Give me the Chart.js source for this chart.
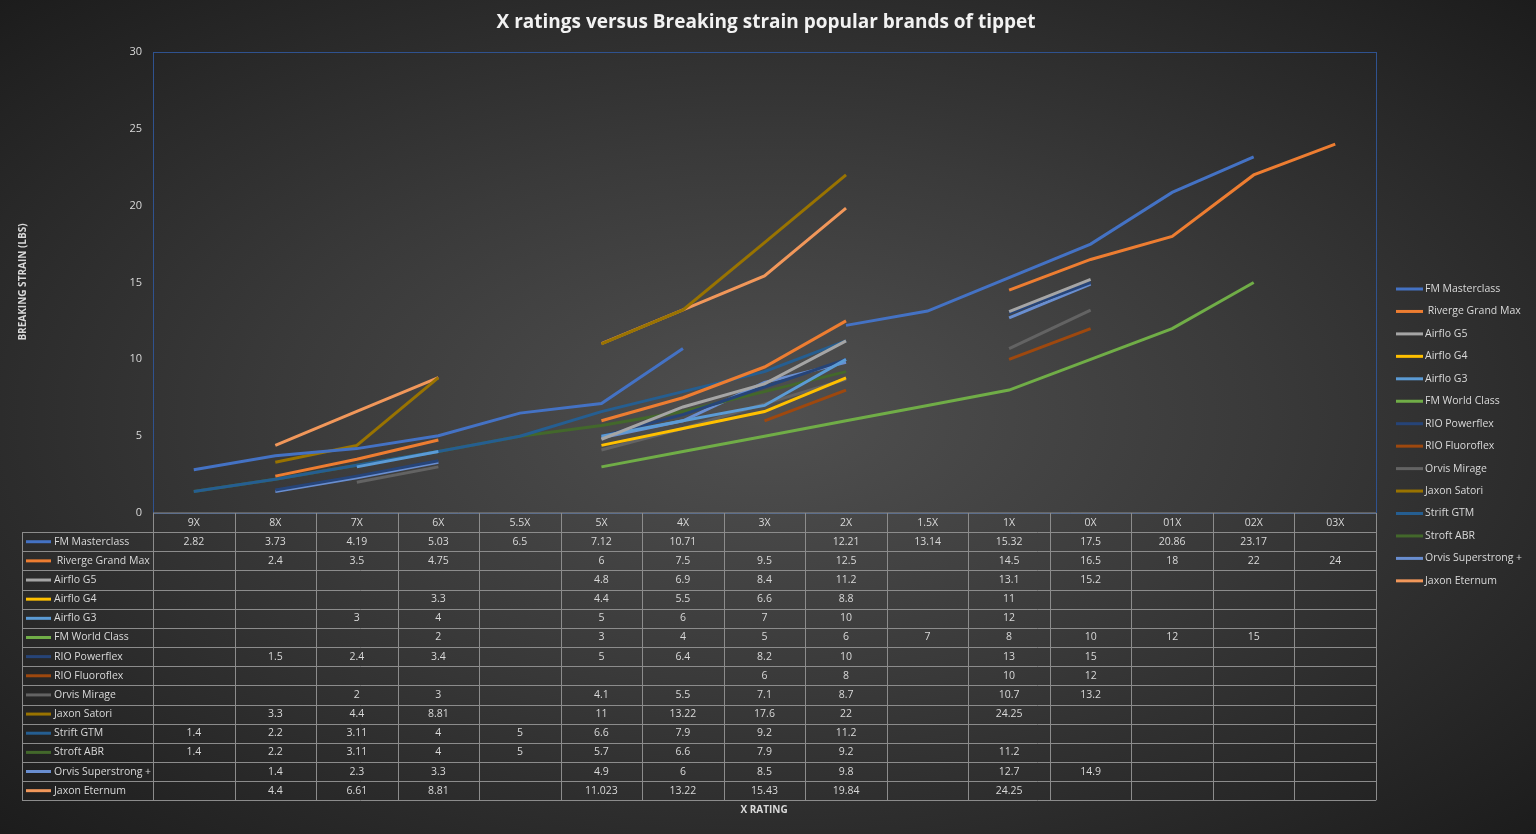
<!DOCTYPE html>
<html>
<head>
<meta charset="utf-8">
<script src="https://cdn.jsdelivr.net/npm/chart.js@4"></script>
<style>
  html, body { margin: 0; padding: 0; overflow: hidden; }
  body { width: 1536px; height: 834px; background: radial-gradient(ellipse at center, #505050 0%, #3a3a3a 45%, #1c1c1c 100%); }
  canvas { display: block; }
</style>
</head>
<body>
<canvas id="myChart" width="1536" height="834"></canvas>
<script>
var categories = ['9X', '8X', '7X', '6X', '5.5X', '5X', '4X', '3X', '2X', '1.5X', '1X', '0X', '01X', '02X', '03X'];

var fmMasterclass   = [2.82, 3.73, 4.19, 5.03, 6.5, 7.12, 10.71, null, 12.21, 13.14, 15.32, 17.5, 20.86, 23.17, null];
var rivergeGrandMax = [null, 2.4, 3.5, 4.75, null, 6, 7.5, 9.5, 12.5, null, 14.5, 16.5, 18, 22, 24];
var airfloG5        = [null, null, null, null, null, 4.8, 6.9, 8.4, 11.2, null, 13.1, 15.2, null, null, null];
var airfloG4        = [null, null, null, 3.3, null, 4.4, 5.5, 6.6, 8.8, null, 11, null, null, null, null];
var airfloG3        = [null, null, 3, 4, null, 5, 6, 7, 10, null, 12, null, null, null, null];
var fmWorldClass    = [null, null, null, 2, null, 3, 4, 5, 6, 7, 8, 10, 12, 15, null];
var rioPowerflex    = [null, 1.5, 2.4, 3.4, null, 5, 6.4, 8.2, 10, null, 13, 15, null, null, null];
var rioFluoroflex   = [null, null, null, null, null, null, null, 6, 8, null, 10, 12, null, null, null];
var orvisMirage     = [null, null, 2, 3, null, 4.1, 5.5, 7.1, 8.7, null, 10.7, 13.2, null, null, null];
var jaxonSatori     = [null, 3.3, 4.4, 8.81, null, 11, 13.22, 17.6, 22, null, 24.25, null, null, null, null];
var striftGTM       = [1.4, 2.2, 3.11, 4, 5, 6.6, 7.9, 9.2, 11.2, null, null, null, null, null, null];
var stroftABR       = [1.4, 2.2, 3.11, 4, 5, 5.7, 6.6, 7.9, 9.2, null, 11.2, null, null, null, null];
var orvisSuperstrong = [null, 1.4, 2.3, 3.3, null, 4.9, 6, 8.5, 9.8, null, 12.7, 14.9, null, null, null];
var jaxonEternum    = [null, 4.4, 6.61, 8.81, null, 11.023, 13.22, 15.43, 19.84, null, 24.25, null, null, null, null];

var seriesNames = ['FM Masterclass', ' Riverge Grand Max', 'Airflo G5', 'Airflo G4', 'Airflo G3', 'FM World Class',
    'RIO Powerflex', 'RIO Fluoroflex', 'Orvis Mirage', 'Jaxon Satori', 'Strift GTM', 'Stroft ABR',
    'Orvis Superstrong +', 'Jaxon Eternum'];
var seriesValues = [fmMasterclass, rivergeGrandMax, airfloG5, airfloG4, airfloG3, fmWorldClass, rioPowerflex,
    rioFluoroflex, orvisMirage, jaxonSatori, striftGTM, stroftABR, orvisSuperstrong, jaxonEternum];
var seriesColors = ['#4472C4', '#ED7D31', '#A5A5A5', '#FFC000', '#5B9BD5', '#70AD47', '#264478',
    '#9E480E', '#636363', '#997300', '#255E91', '#43682B', '#698ED0', '#F1975A'];

var ROW_H = 19.15;

// title, axis titles, plot border, legend and data table
var extrasPlugin = {
    id: 'extras',
    afterDraw: function (chart) {
        var ctx = chart.ctx;
        var area = chart.chartArea;
        var x = chart.scales.x;
        var colW = (area.right - area.left) / categories.length;
        var tableLeft = 22;
        ctx.save();

        ctx.strokeStyle = '#2F528F';
        ctx.lineWidth = 1;
        ctx.strokeRect(area.left + 0.5, area.top + 0.5, area.right - area.left, area.bottom - area.top);

        ctx.fillStyle = '#F2F2F2';
        ctx.font = 'bold 19px "Open Sans", sans-serif';
        ctx.textAlign = 'center';
        ctx.textBaseline = 'middle';
        ctx.fillText('X ratings versus Breaking strain popular brands of tippet', 766, 23);

        ctx.fillStyle = '#D9D9D9';
        ctx.font = 'bold 10px "Open Sans", sans-serif';
        ctx.fillText('X RATING', 764, 810);
        ctx.save();
        ctx.translate(23, 282);
        ctx.rotate(-Math.PI / 2);
        ctx.fillText('BREAKING STRAIN (LBS)', 0, 0);
        ctx.restore();

        // table grid
        var rows = seriesNames.length + 1;
        var top = area.bottom;
        var bottom = top + rows * ROW_H;
        ctx.strokeStyle = '#8C8C8C';
        ctx.lineWidth = 1;
        ctx.beginPath();
        for (var r = 1; r <= rows; r++) {
            var yy = Math.round(top + r * ROW_H) + 0.5;
            ctx.moveTo(tableLeft, yy);
            ctx.lineTo(area.right, yy);
        }
        ctx.moveTo(area.left, top);
        ctx.lineTo(area.right, top);
        ctx.moveTo(tableLeft + 0.5, top + ROW_H);
        ctx.lineTo(tableLeft + 0.5, bottom);
        for (var c = 0; c <= categories.length; c++) {
            var xx = Math.round(area.left + c * colW) + 0.5;
            ctx.moveTo(xx, top);
            ctx.lineTo(xx, bottom);
        }
        ctx.stroke();

        ctx.font = '10.5px "Open Sans", sans-serif';
        ctx.fillStyle = '#D9D9D9';
        ctx.textAlign = 'center';
        categories.forEach(function (cat, i) {
            ctx.fillText(cat, x.getPixelForValue(i), top + ROW_H / 2);
        });
        seriesNames.forEach(function (name, s) {
            var cy = top + (s + 1.5) * ROW_H;
            ctx.strokeStyle = seriesColors[s];
            ctx.lineWidth = 3;
            ctx.beginPath();
            ctx.moveTo(26, cy);
            ctx.lineTo(51, cy);
            ctx.stroke();
            ctx.fillStyle = '#D9D9D9';
            ctx.textAlign = 'left';
            ctx.fillText(name, 54, cy);
            ctx.textAlign = 'center';
            seriesValues[s].forEach(function (v, i) {
                if (v !== null) ctx.fillText(String(v), x.getPixelForValue(i), cy);
            });
        });

        // legend
        seriesNames.forEach(function (name, s) {
            var ly = 289 + s * 22.45;
            ctx.strokeStyle = seriesColors[s];
            ctx.lineWidth = 3;
            ctx.beginPath();
            ctx.moveTo(1396, ly);
            ctx.lineTo(1423, ly);
            ctx.stroke();
            ctx.fillStyle = '#D9D9D9';
            ctx.textAlign = 'left';
            ctx.fillText(name, 1425, ly);
        });
        ctx.restore();
    }
};

var ctx = document.getElementById('myChart').getContext('2d');
var myChart = new Chart(ctx, {
    type: 'line',
    data: {
        labels: categories,
        datasets: seriesNames.map(function (name, s) {
            return {
                label: name,
                data: seriesValues[s],
                borderColor: seriesColors[s],
                backgroundColor: seriesColors[s],
                borderWidth: 3,
                pointRadius: 0,
                tension: 0,
                spanGaps: false
            };
        })
    },
    options: {
        responsive: false,
        animation: false,
        layout: { padding: { left: 113, top: 52, right: 160, bottom: 321 } },
        plugins: {
            legend: { display: false },
            tooltip: { enabled: false }
        },
        scales: {
            x: {
                offset: true,
                grid: { display: false },
                border: { display: false },
                ticks: { display: false },
                afterFit: function (s) { s.height = 0; }
            },
            y: {
                min: 0,
                max: 30,
                grid: { display: false },
                border: { display: false },
                ticks: { stepSize: 5, color: '#D9D9D9', font: { size: 11, family: '"Open Sans", sans-serif' } },
                afterFit: function (s) { s.width = 40; }
            }
        }
    },
    plugins: [extrasPlugin]
});
</script>
</body>
</html>
